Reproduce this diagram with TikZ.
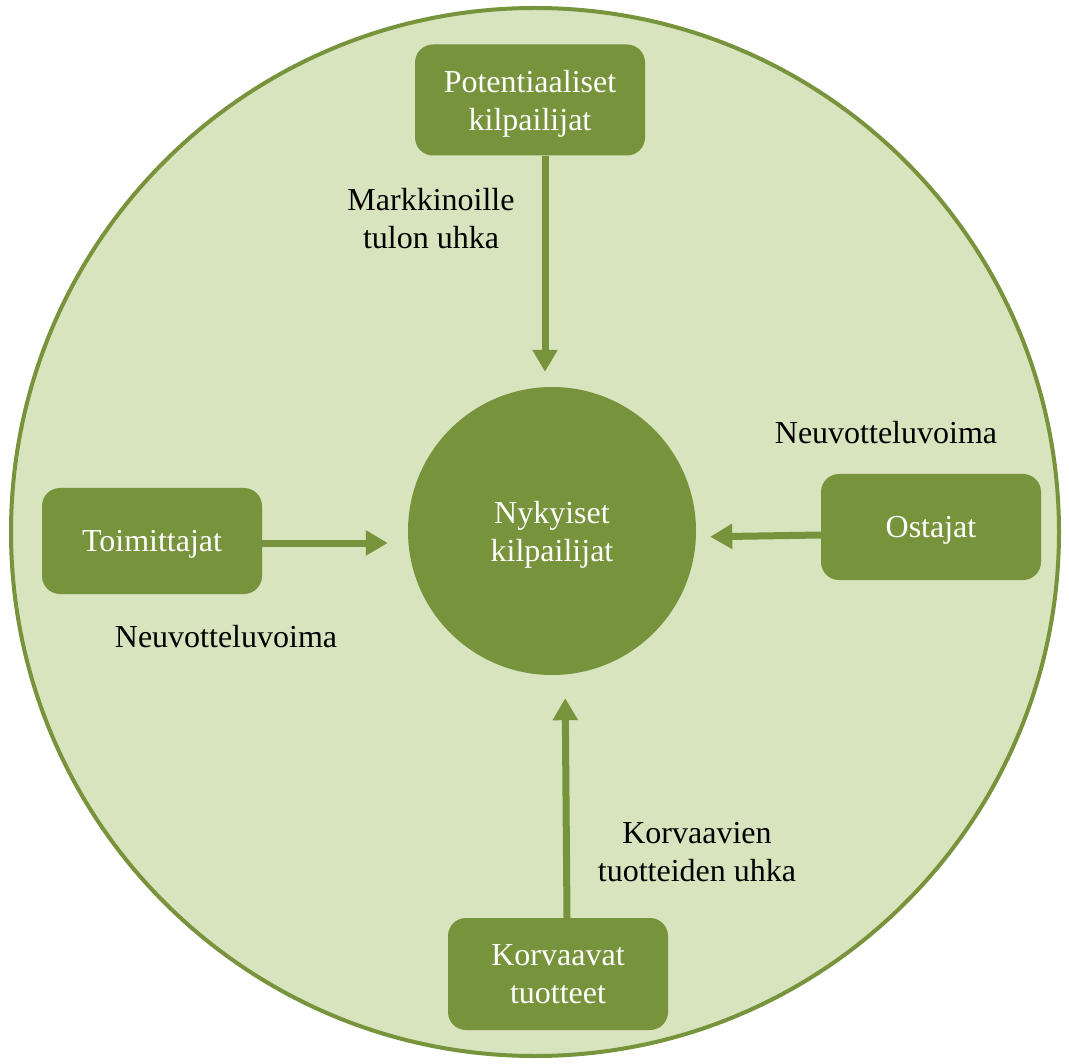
\documentclass[tikz,border=0pt]{standalone}
\usepackage{fontspec}
\setmainfont{Liberation Serif}
\usetikzlibrary{arrows.meta, positioning, calc}
\definecolor{force-dark}{RGB}{119,147,60}
\definecolor{force-light}{RGB}{215,228,189}

\begin{document}
\begin{tikzpicture}[
    x=1pt, y=-1pt,
    force/.style={rectangle, fill=force-dark, rounded corners=18pt,
                  minimum width=220pt, minimum height=106pt, inner sep=0pt,
                  text depth=0pt, align=center, text=white,
                  font=\rmfamily\fontsize{32}{38}\selectfont},
    core/.style={circle, fill=force-dark, minimum size=288pt, inner sep=0pt,
                 text depth=0pt, align=center, text=white,
                 font=\rmfamily\fontsize{32}{38}\selectfont},
    lbl/.style={align=center, font=\rmfamily\fontsize{32}{38}\selectfont},
    arr/.style={-{Triangle[width=24pt, length=22pt]}, line width=7pt, force-dark},
]
\useasboundingbox (0,0) rectangle (1069,1064);

% market area
\draw[force-dark, fill=force-light, line width=4pt] (535,532) circle[radius=524];

\node[core] (core) at (552,531) {Nykyiset\\kilpailijat};

\node[force, minimum width=230pt, minimum height=111pt] (pot) at (530,100)
    {Potentiaaliset\\kilpailijat};
\node[force] (toim) at (152,541) {Toimittajat};
\node[force] (ost) at (931,527) {Ostajat};
\node[force, minimum height=112pt] (korv) at (558,974) {Korvaavat\\tuotteet};

\node[lbl] (uhka1) at (431,219) {Markkinoille\\tulon uhka};
\node[lbl] (neuv1) at (886,433) {Neuvotteluvoima};
\node[lbl] (neuv2) at (226,637) {Neuvotteluvoima};
\node[lbl] (uhka2) at (697,852) {Korvaavien\\tuotteiden uhka};

% arrow ends
\coordinate (potout) at ($(pot.south)+(15,0)$);
\coordinate (potin) at (potout |- core.north);
\coordinate (toimout) at ($(toim.east)+(0,2)$);
\coordinate (toimin) at (toimout -| core.west);
\coordinate (ostout) at ($(ost.west)+(0,8)$);
\coordinate (ostin) at ($(core.east)+(0,6)$);
\coordinate (korvout) at ($(korv.north)+(9,0)$);
\coordinate (korvin) at ($(core.south)+(13,0)$);

\draw[arr, shorten >=15pt] (potout) -- (potin);
\draw[arr, shorten >=20pt] (toimout) -- (toimin);
\draw[arr, shorten >=14pt] (ostout) -- (ostin);
\draw[arr, shorten >=23pt] (korvout) -- (korvin);

\end{tikzpicture}
\end{document}
